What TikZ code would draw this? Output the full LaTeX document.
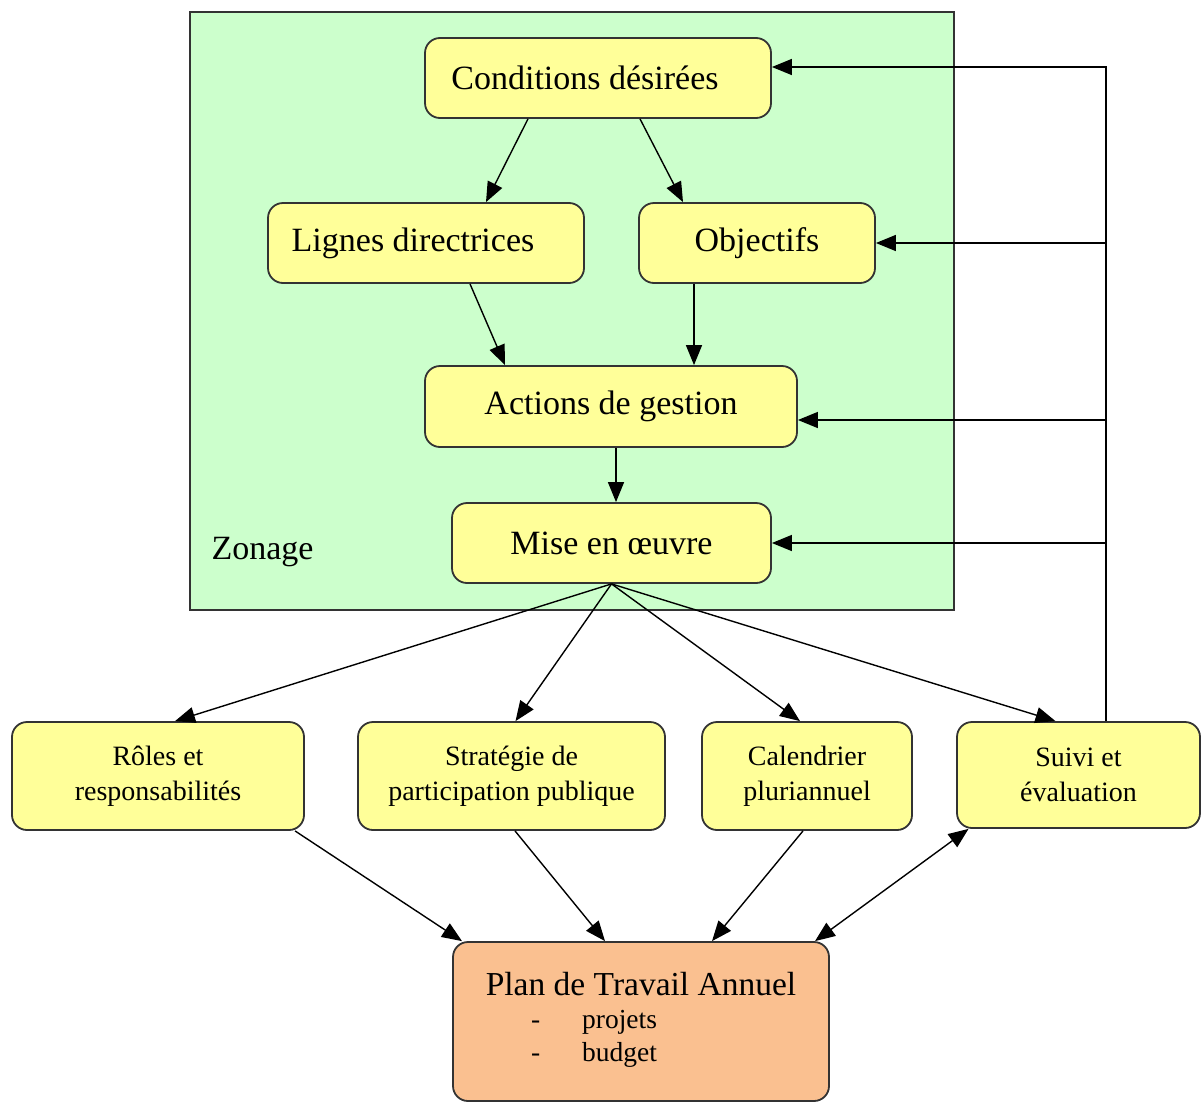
\documentclass[tikz,border=0pt]{standalone}
\usepackage{fontspec}
\setmainfont{Liberation Serif}
\usetikzlibrary{arrows.meta}
\definecolor{zonegreen}{HTML}{CCFFCC}
\definecolor{boxyellow}{HTML}{FFFF99}
\definecolor{boxpeach}{HTML}{FAC090}
\definecolor{edgegray}{HTML}{333333}
\tikzset{
  ybox/.style={draw=edgegray, line width=1.8pt, fill=boxyellow, rounded corners=15pt, inner sep=0pt, align=center},
  bigtxt/.style={font=\fontsize{34}{40}\selectfont},
  smalltxt/.style={font=\fontsize{28}{35}\selectfont},
  arr/.style={draw=black, line width=1.4pt, -{Triangle[length=20pt,width=16pt]}},
  darr/.style={draw=black, line width=1.4pt, {Triangle[length=20pt,width=16pt]}-{Triangle[length=20pt,width=16pt]}},
  ln/.style={draw=black, line width=1.4pt}
}
\begin{document}
\begin{tikzpicture}[x=1pt,y=-1pt]
\useasboundingbox (0,0) rectangle (1201,1103);
\fill[white] (0,0) rectangle (1201,1103);
\draw[draw=edgegray, line width=1.8pt, fill=zonegreen] (190,12) rectangle (954,610);
\node[bigtxt, anchor=west] (zon) at (208,552) {Zonage};

\node[ybox, bigtxt, minimum width=346pt, minimum height=80pt] (cond) at (598,78) {Conditions désirées\hspace*{26pt}};
\node[ybox, bigtxt, minimum width=316pt, minimum height=80pt] (lig) at (426,243) {Lignes directrices\hspace*{26pt}};
\node[ybox, bigtxt, minimum width=236pt, minimum height=80pt] (obj) at (757,243) {Objectifs};
\node[ybox, bigtxt, minimum width=372pt, minimum height=81pt] (act) at (611,406.5) {Actions de gestion};
\node[ybox, bigtxt, minimum width=319pt, minimum height=80pt] (mise) at (611.5,543) {Mise en \oe uvre};

\node[ybox, smalltxt, minimum width=292pt, minimum height=108pt] (role) at (158,776) {Rôles et\\responsabilités};
\node[ybox, smalltxt, minimum width=307pt, minimum height=108pt] (strat) at (511.5,776) {Stratégie de\\participation publique};
\node[ybox, smalltxt, minimum width=210pt, minimum height=108pt] (cal) at (807,776) {Calendrier\\pluriannuel};
\node[ybox, smalltxt, minimum width=243pt, minimum height=106pt] (suivi) at (1078.5,775) {Suivi et\\évaluation};

\node[ybox, fill=boxpeach, minimum width=376pt, minimum height=159pt, align=left] (plan) at (641,1021.5)
  {\parbox{376pt}{\centering\fontsize{33.5}{40}\selectfont Plan de Travail Annuel\par
   \raggedright\fontsize{27.5}{33}\selectfont
   \hspace*{78pt}-\hspace{42pt}projets\par
   \hspace*{78pt}-\hspace{42pt}budget\par\vspace*{4pt}}};

% top part
\draw[arr] ([xshift=-70pt]cond.south) -- ([xshift=60pt]lig.north);
\draw[arr] ([xshift=42pt]cond.south) -- ([xshift=-74pt]obj.north);
\draw[arr] ([xshift=44pt]lig.south) -- ([xshift=-106pt]act.north);
\draw[arr] ([xshift=-63pt]obj.south) -- ([xshift=83pt]act.north);
\draw[arr] ([xshift=5pt]act.south) -- ([xshift=4.5pt]mise.north);

% fan out
\draw[arr] (mise.south) -- ([xshift=17pt]role.north);
\draw[arr] (mise.south) -- ([xshift=4pt]strat.north);
\draw[arr] (mise.south) -- ([xshift=-7pt]cal.north);
\draw[arr] (mise.south) -- ([xshift=-23pt]suivi.north);

% to plan
\draw[arr] ([xshift=137pt]role.south) -- ([xshift=-179pt]plan.north);
\draw[arr] ([xshift=3.5pt]strat.south) -- ([xshift=-36pt]plan.north);
\draw[arr] ([xshift=-4pt]cal.south) -- ([xshift=71pt]plan.north);
\draw[darr] ([xshift=-110pt]suivi.south) -- ([xshift=174pt]plan.north);

% feedback
\coordinate (fb) at (1106,0);
\coordinate (actin) at ([yshift=-13.5pt]act.east);
\draw[arr] ([xshift=27.5pt]suivi.north) |- ([yshift=11pt]cond.east);
\draw[arr] (fb |- obj.east) -- (obj.east);
\draw[arr] (fb |- actin) -- (actin);
\draw[arr] (fb |- mise.east) -- (mise.east);
\end{tikzpicture}
\end{document}
